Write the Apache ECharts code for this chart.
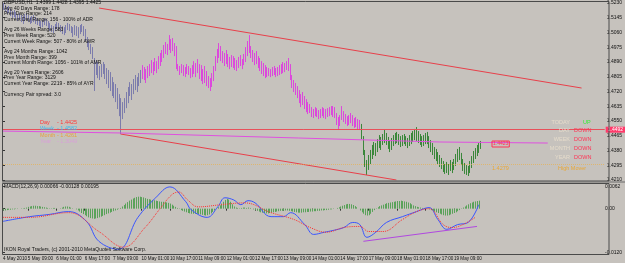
<!DOCTYPE html>
<html>
<head>
<meta charset="utf-8">
<script src="https://cdn.jsdelivr.net/npm/echarts@6/dist/echarts.min.js"></script>
<style>
  html, body { margin: 0; padding: 0; background: #c6c2bd; }
  #chart { width: 625px; height: 263px; }
</style>
</head>
<body>
<div id="chart"></div>
<script>
// GBPUSD H1 bars, one per hour, index 0 = first bar on screen
const HIGHS = [
  1.5230, 1.5219, 1.5207, 1.5213, 1.5196, 1.5184, 1.5190, 1.5178, 1.5167, 1.5172,
  1.5161, 1.5155, 1.5167, 1.5172, 1.5161, 1.5149, 1.5155, 1.5161, 1.5149, 1.5143,
  1.5132, 1.5126, 1.5132, 1.5143, 1.5138, 1.5126, 1.5115, 1.5103, 1.5097, 1.5109,
  1.5120, 1.5115, 1.5103, 1.5097, 1.5091, 1.5103, 1.5115, 1.5109, 1.5097, 1.5091,
  1.5103, 1.5097, 1.5091, 1.5103, 1.5109, 1.5097, 1.5080, 1.5034, 1.5011, 1.4994,
  1.4976, 1.4913, 1.4901, 1.4890, 1.4867, 1.4878, 1.4890, 1.4878, 1.4855, 1.4844,
  1.4832, 1.4803, 1.4774, 1.4763, 1.4740, 1.4705, 1.4682, 1.4659, 1.4682, 1.4717,
  1.4746, 1.4774, 1.4763, 1.4792, 1.4815, 1.4803, 1.4826, 1.4844, 1.4872, 1.4861,
  1.4849, 1.4867, 1.4878, 1.4901, 1.4890, 1.4913, 1.4895, 1.4924, 1.4942, 1.4959,
  1.4988, 1.5005, 1.4994, 1.5045, 1.5022, 1.5028, 1.4999, 1.4982, 1.4878, 1.4867,
  1.4878, 1.4872, 1.4861, 1.4878, 1.4867, 1.4855, 1.4872, 1.4895, 1.4884, 1.4907,
  1.4878, 1.4872, 1.4849, 1.4867, 1.4838, 1.4809, 1.4797, 1.4826, 1.4867, 1.4924,
  1.4965, 1.4999, 1.4982, 1.4953, 1.4942, 1.4959, 1.4936, 1.4919, 1.4930, 1.4924,
  1.4913, 1.4901, 1.4919, 1.4930, 1.4907, 1.4936, 1.4976, 1.5011, 1.5045, 1.4982,
  1.4959, 1.4942, 1.4953, 1.4924, 1.4913, 1.4895, 1.4884, 1.4872, 1.4861, 1.4855,
  1.4849, 1.4861, 1.4867, 1.4855, 1.4861, 1.4872, 1.4878, 1.4890, 1.4884, 1.4895,
  1.4913, 1.4878, 1.4815, 1.4786, 1.4769, 1.4751, 1.4728, 1.4705, 1.4717, 1.4694,
  1.4676, 1.4659, 1.4648, 1.4630, 1.4619, 1.4630, 1.4624, 1.4613, 1.4619, 1.4630,
  1.4624, 1.4619, 1.4624, 1.4630, 1.4636, 1.4636, 1.4630, 1.4596, 1.4573, 1.4584,
  1.4636, 1.4607, 1.4590, 1.4578, 1.4584, 1.4596, 1.4584, 1.4567, 1.4573, 1.4561,
  1.4556, 1.4533, 1.4463, 1.4383, 1.4325, 1.4354, 1.4383, 1.4412, 1.4429, 1.4423,
  1.4446, 1.4469, 1.4458, 1.4475, 1.4498, 1.4481, 1.4458, 1.4440, 1.4452, 1.4469,
  1.4481, 1.4487, 1.4475, 1.4463, 1.4469, 1.4475, 1.4463, 1.4452, 1.4469, 1.4481,
  1.4492, 1.4504, 1.4515, 1.4492, 1.4475, 1.4463, 1.4469, 1.4481, 1.4487, 1.4463,
  1.4440, 1.4423, 1.4400, 1.4389, 1.4371, 1.4354, 1.4337, 1.4319, 1.4302, 1.4314,
  1.4302, 1.4325, 1.4314, 1.4331, 1.4360, 1.4389, 1.4400, 1.4366, 1.4331, 1.4308,
  1.4296, 1.4291, 1.4319, 1.4348, 1.4377, 1.4394, 1.4412, 1.4423, 1.4435
];
const LOWS = [
  1.5190, 1.5178, 1.5167, 1.5172, 1.5155, 1.5143, 1.5149, 1.5138, 1.5126, 1.5132,
  1.5120, 1.5109, 1.5126, 1.5132, 1.5120, 1.5109, 1.5115, 1.5120, 1.5109, 1.5103,
  1.5097, 1.5086, 1.5091, 1.5103, 1.5097, 1.5080, 1.5068, 1.5063, 1.5057, 1.5068,
  1.5080, 1.5074, 1.5063, 1.5051, 1.5045, 1.5057, 1.5074, 1.5068, 1.5057, 1.5034,
  1.5045, 1.5040, 1.5028, 1.5051, 1.5063, 1.5040, 1.5011, 1.4976, 1.4959, 1.4936,
  1.4907, 1.4723, 1.4815, 1.4797, 1.4786, 1.4803, 1.4821, 1.4792, 1.4763, 1.4740,
  1.4723, 1.4694, 1.4682, 1.4659, 1.4619, 1.4578, 1.4475, 1.4561, 1.4596, 1.4624,
  1.4653, 1.4694, 1.4671, 1.4705, 1.4728, 1.4717, 1.4751, 1.4769, 1.4792, 1.4786,
  1.4769, 1.4797, 1.4809, 1.4826, 1.4815, 1.4838, 1.4826, 1.4849, 1.4867, 1.4890,
  1.4913, 1.4936, 1.4930, 1.4959, 1.4942, 1.4953, 1.4924, 1.4849, 1.4838, 1.4815,
  1.4826, 1.4809, 1.4803, 1.4821, 1.4815, 1.4797, 1.4803, 1.4821, 1.4803, 1.4826,
  1.4792, 1.4780, 1.4763, 1.4769, 1.4751, 1.4740, 1.4723, 1.4746, 1.4780, 1.4838,
  1.4884, 1.4913, 1.4895, 1.4884, 1.4867, 1.4878, 1.4861, 1.4849, 1.4861, 1.4855,
  1.4844, 1.4838, 1.4855, 1.4867, 1.4849, 1.4872, 1.4890, 1.4924, 1.4942, 1.4913,
  1.4890, 1.4872, 1.4878, 1.4855, 1.4838, 1.4821, 1.4809, 1.4797, 1.4803, 1.4809,
  1.4803, 1.4809, 1.4815, 1.4803, 1.4809, 1.4815, 1.4821, 1.4826, 1.4832, 1.4844,
  1.4838, 1.4786, 1.4740, 1.4717, 1.4700, 1.4682, 1.4653, 1.4630, 1.4642, 1.4619,
  1.4601, 1.4590, 1.4596, 1.4573, 1.4567, 1.4578, 1.4573, 1.4561, 1.4567, 1.4578,
  1.4567, 1.4561, 1.4573, 1.4578, 1.4584, 1.4573, 1.4567, 1.4527, 1.4498, 1.4521,
  1.4556, 1.4544, 1.4533, 1.4521, 1.4527, 1.4538, 1.4521, 1.4510, 1.4515, 1.4504,
  1.4498, 1.4446, 1.4354, 1.4285, 1.4239, 1.4268, 1.4302, 1.4331, 1.4354, 1.4348,
  1.4371, 1.4394, 1.4383, 1.4412, 1.4423, 1.4412, 1.4389, 1.4371, 1.4383, 1.4406,
  1.4417, 1.4423, 1.4412, 1.4400, 1.4406, 1.4417, 1.4406, 1.4394, 1.4406, 1.4417,
  1.4429, 1.4440, 1.4435, 1.4423, 1.4412, 1.4400, 1.4406, 1.4417, 1.4417, 1.4394,
  1.4371, 1.4354, 1.4331, 1.4319, 1.4302, 1.4285, 1.4273, 1.4256, 1.4245, 1.4250,
  1.4239, 1.4262, 1.4250, 1.4268, 1.4291, 1.4314, 1.4325, 1.4296, 1.4262, 1.4245,
  1.4239, 1.4233, 1.4250, 1.4279, 1.4308, 1.4331, 1.4348, 1.4366, 1.4389
];
// trend colouring of the bars switches at these bar indexes
const MAGENTA_FROM = 78;
const GREEN_FROM = 201;

// MACD(12,26,9): histogram per bar, main and signal lines read at key bars
const HIST = [
  -0.0005, -0.0005, -0.0004, -0.0003, -0.0003,
  -0.0002, -0.0002, -0.0001, -0.0001, 0.0000, 0.0001, 0.0001, 0.0002, 0.0003,
  0.0005, 0.0006, 0.0007, 0.0008, 0.0008, 0.0007, 0.0007, 0.0006, 0.0005, 0.0004, 0.0003,
  0.0002, 0.0001, 0.0001, 0.0002, 0.0002, 0.0001, 0.0000, 0.0001,
  0.0003, 0.0005, 0.0006, 0.0006, 0.0005, 0.0003,
  0.0001, 0.0000, -0.0002,
  -0.0005, -0.0008, -0.0012, -0.0015, -0.0018, -0.0021, -0.0024, -0.0026, -0.0027,
  -0.0028, -0.0027, -0.0026, -0.0024, -0.0022, -0.0020, -0.0018, -0.0015, -0.0013,
  -0.0011, -0.0009, -0.0007, -0.0005, -0.0003, -0.0001, 0.0002, 0.0006, 0.0010, 0.0014, 0.0018,
  0.0022, 0.0025, 0.0028, 0.0030, 0.0032, 0.0033, 0.0033, 0.0032, 0.0031, 0.0029,
  0.0027, 0.0026, 0.0025, 0.0024, 0.0023, 0.0022, 0.0021, 0.0020, 0.0019, 0.0019,
  0.0018, 0.0017, 0.0016, 0.0014, 0.0011, 0.0008, 0.0005,
  0.0002, -0.0001, -0.0004, -0.0006, -0.0008, -0.0010, -0.0012, -0.0013, -0.0014, -0.0014, -0.0014, -0.0014,
  -0.0015, -0.0016, -0.0017, -0.0018, -0.0019, -0.0018, -0.0016, -0.0013, -0.0009, -0.0005, -0.0001,
  0.0004, 0.0009, 0.0014, 0.0019, 0.0024, 0.0027, 0.0025, 0.0019, 0.0012,
  0.0006, 0.0003, 0.0002, 0.0001, 0.0002, 0.0003, 0.0003, 0.0002, 0.0003, 0.0002, 0.0000, -0.0002,
  -0.0004, -0.0006, -0.0008, -0.0010, -0.0011, -0.0012, -0.0013, -0.0013, -0.0012, -0.0011,
  -0.0010, -0.0009, -0.0008, -0.0007, -0.0006, -0.0006, -0.0005, -0.0005, -0.0005,
  -0.0006, -0.0007, -0.0008, -0.0009, -0.0010, -0.0011, -0.0011, -0.0011, -0.0010, -0.0010,
  -0.0009, -0.0009, -0.0008, -0.0008, -0.0007, -0.0007, -0.0006, -0.0006, -0.0005, -0.0005,
  -0.0004, -0.0004, -0.0003, -0.0002, -0.0002, -0.0001, 0.0000,
  0.0002, 0.0004, 0.0006, 0.0008, 0.0010, 0.0012, 0.0013, 0.0013, 0.0012, 0.0010, 0.0007, 0.0004,
  0.0000, -0.0005, -0.0010, -0.0014, -0.0018, -0.0019, -0.0018, -0.0014, -0.0009, -0.0004,
  0.0001, 0.0004, 0.0007, 0.0009, 0.0011, 0.0013, 0.0015, 0.0016, 0.0017, 0.0018,
  0.0019, 0.0020, 0.0021, 0.0021, 0.0022, 0.0021, 0.0020, 0.0019, 0.0017, 0.0015,
  0.0012, 0.0009, 0.0007, 0.0005, 0.0004, 0.0003, 0.0002, 0.0002, 0.0001, 0.0000, -0.0002, -0.0004, -0.0006,
  -0.0008, -0.0010, -0.0012, -0.0014, -0.0016, -0.0018, -0.0019, -0.0019,
  -0.0018, -0.0016, -0.0014, -0.0012, -0.0010, -0.0007, -0.0004, -0.0001,
  0.0003, 0.0006, 0.0009, 0.0012, 0.0015, 0.0017, 0.0019, 0.0020, 0.0021, 0.0022
];
const MACD_MAIN = [
  [0, -0.0035], [15, -0.0022], [26, -0.0016], [37, -0.0008], [47, -0.0035], [54, -0.0090],
  [65, -0.0112], [76, -0.0024], [86, 0.0030], [94, 0.0060], [103, 0.0019], [106, -0.0003],
  [115, -0.0024], [121, 0.0005], [125, 0.0030], [130, 0.0024], [134, 0.0011], [138, 0.0022],
  [142, 0.0016], [151, -0.0022], [158, -0.0022], [162, -0.0011], [170, -0.0044], [175, -0.0071],
  [181, -0.0065], [186, -0.0060], [192, -0.0052], [197, -0.0038], [201, -0.0044], [205, -0.0079],
  [210, -0.0065], [216, -0.0038], [225, -0.0022], [233, -0.0008], [240, 0.0003], [245, -0.0030],
  [250, -0.0057], [256, -0.0044], [262, -0.0038], [268, 0.0011]
];
const MACD_SIGNAL = [
  [0, -0.0024], [15, -0.0024], [37, -0.0011], [54, -0.0063], [68, -0.0106], [80, -0.0052],
  [88, -0.0003], [95, 0.0038], [99, 0.0046], [104, 0.0024], [110, 0.0005], [123, 0.0011],
  [136, 0.0016], [151, -0.0011], [164, -0.0030], [173, -0.0052], [182, -0.0065], [192, -0.0052],
  [201, -0.0049], [206, -0.0063], [214, -0.0063], [225, -0.0030], [233, -0.0008], [240, 0.0000],
  [248, -0.0044], [253, -0.0052], [259, -0.0044], [266, -0.0024]
];

// drawn objects: trend lines [bar index, price]
const UPPER_CHANNEL = [[54, 1.5201], [325, 1.4740]];
const LOWER_CHANNEL = [[66, 1.4475], [221, 1.4210]];
const LEVEL_LINE = [[0, 1.4492], [66, 1.4481], [166, 1.4452], [245, 1.4429], [306, 1.4423]];
const MACD_TREND = [[203, -0.0090], [267, -0.0049]];
const RED_LEVEL = 1.4492;
const LOW_LEVEL = 1.4230;
const MOVER_LEVEL = 1.4279;
const BID = 1.4420;

// axes
const PRICE_TICKS = [1.5230, 1.5145, 1.5060, 1.4975, 1.4890, 1.4805, 1.4720, 1.4635, 1.4550, 1.4465, 1.4380, 1.4295, 1.4210];
const MACD_TICKS = [0.0062, 0, -0.0120];
const TIME_TICKS = [0, 14, 30, 46, 62, 78, 94, 110, 126, 142, 158, 174, 190, 206, 222, 238, 254];
const TIME_LABELS = ['4 May 2010', '5 May 09:00', '6 May 01:00', '6 May 17:00', '7 May 09:00', '10 May 01:00',
  '10 May 17:00', '11 May 09:00', '12 May 01:00', '12 May 17:00', '13 May 09:00', '14 May 01:00',
  '14 May 17:00', '17 May 09:00', '18 May 01:00', '18 May 17:00', '19 May 09:00'];

// text blocks
const INFO_LINES = [
  'GBPUSD,H1  1.4399 1.4428 1.4395 1.4425',
  'Avg 40 Days Range: 178',
  'Prev Day Range: 214',
  'Current Day Range: 156 - 100% of ADR',
  'Avg 26 Weeks Range: 583',
  'Prev Week Range: 520',
  'Current Week Range: 507 - 80% of AWR',
  'Avg 24 Months Range: 1042',
  'Prev Month Range: 399',
  'Current Month Range: 1056 - 101% of AMR',
  'Avg 20 Years Range: 2606',
  'Prev Year Range: 3129',
  'Current Year Range: 2219 - 85% of AYR',
  'Currency Pair spread: 3.0'
];
const PERIOD_NAMES = ['Day', 'Week', 'Month', 'Year'];
const PERIOD_VALUES = ['1.4425', '1.4582', '1.4261', '1.3049'];
const TREND_NAMES = ['TODAY', 'DAY', 'WEEK', 'MONTH', 'YEAR'];
const TREND_STATES = ['UP', 'DOWN', 'DOWN', 'DOWN', 'DOWN'];

const FONT = 'Liberation Sans';
const chart = echarts.init(document.getElementById('chart'));

function barColor(i) {
  if (i >= GREEN_FROM) return '#3a873a';
  if (i >= MAGENTA_FROM) return '#dc48dc';
  return '#7c7cac';
}

function renderBar(params, api) {
  const i = api.value(0);
  const top = api.coord([i, api.value(1)]);
  const bot = api.coord([i, api.value(2)]);
  const x = Math.round(top[0]) + 0.5;
  return {
    type: 'line',
    shape: { x1: x, y1: top[1], x2: x, y2: bot[1] },
    style: { stroke: barColor(i), lineWidth: 1 }
  };
}

function renderHist(params, api) {
  const i = api.value(0);
  const base = api.coord([i, 0]);
  const tip = api.coord([i, api.value(1)]);
  const x = Math.round(base[0]) + 0.5;
  return {
    type: 'line',
    shape: { x1: x, y1: base[1], x2: x, y2: tip[1] },
    style: { stroke: '#5aa25a', lineWidth: 1 }
  };
}

function tag(value, bg, fg) {
  return {
    show: true, position: 'end', distance: 1,
    formatter: value.toFixed(4),
    backgroundColor: bg, color: fg, fontSize: 5, fontFamily: FONT,
    padding: [1, 2, 0, 2]
  };
}

function txt(x, y, text, color, size, align) {
  return {
    type: 'text', x: x, y: y, z: 100, silent: true,
    style: { text: text, fill: color, font: (size || 5) + 'px "' + FONT + '"',
      textVerticalAlign: 'middle', textAlign: align || 'left' }
  };
}

const graphics = [];
// panel frames
graphics.push({ type: 'rect', z: 90, silent: true, shape: { x: 2.5, y: 1.5, width: 606.5, height: 179.5 },
  style: { fill: 'none', stroke: '#4a4a4a', lineWidth: 1 } });
graphics.push({ type: 'rect', z: 90, silent: true, shape: { x: 2.5, y: 183.5, width: 606.5, height: 71 },
  style: { fill: 'none', stroke: '#4a4a4a', lineWidth: 1 } });
graphics.push({ type: 'line', z: 90, silent: true, shape: { x1: 2, y1: 182, x2: 625, y2: 182 },
  style: { stroke: '#6a6a6a', lineWidth: 1 } });

const infoY = [3, 9, 14, 20, 30, 36, 42, 52, 58, 63, 73, 78, 84, 95];
INFO_LINES.forEach((t, k) => graphics.push(txt(4, infoY[k], t, '#111')));

const periodColors = ['#ff3838', '#38b8f0', '#e8a040', '#d8a0d8'];
PERIOD_NAMES.forEach((n, k) => {
  const y = 122 + k * 6.5;
  graphics.push(txt(40, y, n, periodColors[k], 5.5));
  graphics.push(txt(57, y, '- ' + PERIOD_VALUES[k], periodColors[k], 5.5));
});

TREND_NAMES.forEach((n, k) => {
  const y = 122 + k * 8.8;
  graphics.push(txt(570, y, n, '#e6dccb', 5.5, 'right'));
  const up = TREND_STATES[k] === 'UP';
  graphics.push(txt(up ? 583 : 574, y, TREND_STATES[k], up ? '#33ee33' : '#ff3355', 5.5));
});

graphics.push({ type: 'text', x: 492, y: 144, z: 100, silent: true,
  style: { text: LEVEL_LINE[LEVEL_LINE.length - 1][1].toFixed(4), fill: '#ff3355', font: '5px "' + FONT + '"',
    textVerticalAlign: 'middle', borderColor: '#ff3355', borderWidth: 1, padding: [1, 1, 0, 1] } });
graphics.push(txt(492, 168, MOVER_LEVEL.toFixed(4), '#e8a838', 5.5));
graphics.push(txt(558, 168, 'High Mover', '#e8a838', 5.5));

graphics.push(txt(4, 187, 'MACD(12,26,9) 0.00066 -0.00128 0.00195', '#111'));
graphics.push(txt(4, 250, 'IKON Royal Traders, (c) 2001-2010 MetaQuotes Software Corp.', '#111'));

const axisText = { fontSize: 5, fontFamily: FONT, color: '#111' };

const option = {
  backgroundColor: '#c6c2bd',
  animation: false,
  grid: [
    { left: 3, top: 3, width: 606, height: 177, show: false },
    { left: 3, top: 184, width: 606, height: 70, show: false }
  ],
  xAxis: [
    { type: 'value', gridIndex: 0, min: 0, max: 338, axisLine: { show: false }, axisTick: { show: false },
      axisLabel: { show: false }, splitLine: { show: false } },
    { type: 'value', gridIndex: 1, min: 0, max: 338, axisLine: { show: false },
      axisTick: { show: true, customValues: TIME_TICKS, length: 2, lineStyle: { color: '#333' } },
      axisLabel: Object.assign({ show: true, customValues: TIME_TICKS, align: 'left', margin: 2,
        hideOverlap: false,
        formatter: v => TIME_LABELS[TIME_TICKS.indexOf(Math.round(v))] || '' }, axisText, { fontSize: 4.6 }),
      splitLine: { show: false } }
  ],
  yAxis: [
    { type: 'value', gridIndex: 0, position: 'right', min: 1.4210, max: 1.5230,
      axisLine: { show: false },
      axisTick: { show: true, customValues: PRICE_TICKS, length: 2, lineStyle: { color: '#333' } },
      axisLabel: Object.assign({ customValues: PRICE_TICKS, margin: 2, showMinLabel: true, showMaxLabel: true,
        formatter: v => v.toFixed(4) }, axisText),
      splitLine: { show: false } },
    { type: 'value', gridIndex: 1, position: 'right', min: -0.0125, max: 0.0068,
      axisLine: { show: false },
      axisTick: { show: true, customValues: MACD_TICKS, length: 2, lineStyle: { color: '#333' } },
      axisLabel: Object.assign({ customValues: MACD_TICKS, margin: 2,
        formatter: v => (v === 0 ? '0.00' : v.toFixed(4)) }, axisText),
      splitLine: { show: false } }
  ],
  series: [
    { type: 'custom', name: 'bars', xAxisIndex: 0, yAxisIndex: 0, silent: true,
      data: HIGHS.map((h, i) => [i, h, LOWS[i]]), encode: { x: 0, y: [1, 2] }, renderItem: renderBar },
    { type: 'line', name: 'upper', xAxisIndex: 0, yAxisIndex: 0, data: UPPER_CHANNEL, symbol: 'none', silent: true,
      lineStyle: { color: '#e8404a', width: 1 },
      markLine: {
        symbol: 'none', silent: true, animation: false,
        data: [
          { yAxis: RED_LEVEL, lineStyle: { color: '#e8505a', width: 1, type: 'solid' }, label: tag(RED_LEVEL, '#ff3a6a', '#fff') },
          { yAxis: LOW_LEVEL, lineStyle: { color: '#f07080', width: 1, type: 'solid' }, label: tag(LOW_LEVEL, '#ff3a6a', '#fff') },
          { yAxis: MOVER_LEVEL, lineStyle: { color: '#e8b050', width: 1, type: 'dotted', opacity: 0.7 }, label: { show: false } },
          { yAxis: BID, lineStyle: { opacity: 0 }, label: tag(BID, '#2c3238', '#fff') }
        ]
      } },
    { type: 'line', name: 'lower', xAxisIndex: 0, yAxisIndex: 0, data: LOWER_CHANNEL, symbol: 'none', silent: true,
      lineStyle: { color: '#e8404a', width: 1 } },
    { type: 'line', name: 'level', xAxisIndex: 0, yAxisIndex: 0, data: LEVEL_LINE, symbol: 'none', silent: true,
      lineStyle: { color: '#e050e0', width: 1 } },
    { type: 'custom', name: 'hist', xAxisIndex: 1, yAxisIndex: 1, silent: true,
      data: HIST.map((v, i) => [i, v]), encode: { x: 0, y: 1 }, renderItem: renderHist },
    { type: 'line', name: 'macd', xAxisIndex: 1, yAxisIndex: 1, data: MACD_MAIN, symbol: 'none', smooth: 0.4, silent: true,
      lineStyle: { color: '#3a55ff', width: 1 } },
    { type: 'line', name: 'signal', xAxisIndex: 1, yAxisIndex: 1, data: MACD_SIGNAL, symbol: 'none', smooth: 0.4, silent: true,
      lineStyle: { color: '#ff3030', width: 1, type: 'dotted' } },
    { type: 'line', name: 'macdTrend', xAxisIndex: 1, yAxisIndex: 1, data: MACD_TREND, symbol: 'none', silent: true,
      lineStyle: { color: '#b048e0', width: 1 } }
  ],
  graphic: graphics
};

chart.setOption(option);
</script>
</body>
</html>
